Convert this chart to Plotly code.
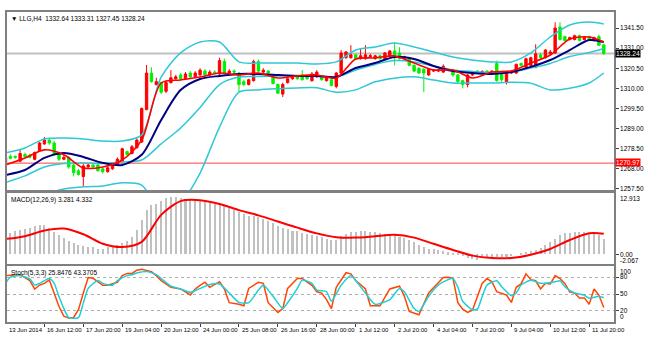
import plotly.graph_objects as go

# ---------------- data ----------------
opens = [1271.5,1274.5,1274.5,1272.0,1275.5,1275.0,1273.0,1277.5,1281.0,1283.0,
         1281.5,1276.0,1273.0,1274.0,1270.0,1267.0,1264.0,1269.0,1270.0,1270.0,
         1268.0,1266.5,1268.0,1270.0,1272.0,1277.0,1276.0,1279.0,1282.0,1299.0,
         1318.0,1312.0,1313.0,1308.5,1313.0,1315.0,1317.0,1315.0,1318.0,1316.0,
         1317.0,1319.0,1317.0,1318.5,1317.5,1324.0,1318.0,1319.0,1318.0,1313.5,
         1312.0,1314.0,1324.0,1318.5,1319.0,1317.0,1312.0,1307.0,1313.0,1315.0,
         1316.0,1317.0,1316.0,1314.0,1316.0,1316.0,1314.0,1314.5,1311.0,1318.0,
         1326.0,1326.0,1327.5,1325.5,1325.5,1326.5,1325.5,1327.0,1325.5,1327.0,
         1329.5,1328.5,1325.5,1326.0,1322.0,1320.5,1320.0,1317.0,1319.0,1319.0,
         1318.5,1320.0,1319.5,1317.0,1314.0,1312.0,1317.0,1319.0,1318.0,1319.0,
         1317.5,1323.0,1318.0,1313.5,1318.0,1318.0,1323.0,1321.0,1322.0,1321.0,
         1327.5,1326.0,1328.0,1328.5,1342.0,1337.0,1335.5,1335.5,1337.5,1335.5,
         1337.0,1335.0,1337.0,1332.64]
highs = [1274.8,1275.5,1275.0,1278.0,1276.5,1276.0,1277.0,1282.0,1284.6,1283.8,
         1282.5,1276.5,1275.0,1274.5,1270.5,1268.0,1270.5,1270.5,1271.0,1270.5,
         1268.5,1269.0,1271.5,1274.0,1279.0,1277.5,1280.5,1284.0,1300.0,1322.2,
         1321.0,1315.5,1313.5,1314.0,1319.5,1317.0,1318.0,1318.5,1319.0,1319.0,
         1320.5,1320.0,1319.5,1319.5,1326.0,1325.5,1320.0,1320.0,1318.5,1314.5,
         1315.0,1325.0,1325.0,1320.5,1319.5,1317.5,1312.5,1313.0,1316.0,1317.0,
         1317.0,1319.5,1316.5,1318.5,1319.5,1316.5,1316.5,1315.0,1318.5,1330.0,
         1329.5,1332.5,1328.0,1331.0,1332.5,1328.0,1327.5,1327.5,1329.0,1330.0,
         1334.0,1331.5,1327.0,1326.5,1322.5,1321.0,1320.5,1320.5,1320.0,1320.0,
         1322.5,1320.5,1320.0,1317.5,1314.5,1317.5,1319.0,1319.5,1319.5,1319.5,
         1319.5,1324.5,1318.5,1319.0,1319.5,1323.0,1323.5,1326.0,1326.5,1333.0,
         1328.5,1330.5,1330.0,1344.5,1344.5,1337.5,1337.0,1338.0,1338.0,1337.0,
         1337.5,1337.0,1338.0,1333.31]
lows = [1270.5,1273.0,1273.2,1271.5,1274.0,1273.5,1272.5,1277.0,1280.5,1280.5,
        1275.0,1272.0,1272.5,1268.0,1264.0,1264.5,1258.5,1268.5,1268.5,1266.5,
        1265.5,1266.0,1267.5,1269.5,1271.5,1275.0,1275.5,1278.5,1281.5,1298.5,
        1313.0,1311.5,1307.0,1307.5,1312.5,1314.5,1314.5,1314.5,1315.5,1315.5,
        1316.5,1316.5,1316.5,1317.5,1317.0,1317.5,1317.5,1317.5,1308.0,1311.0,
        1311.5,1313.5,1318.5,1318.0,1317.0,1312.0,1307.0,1305.5,1312.5,1314.5,
        1314.5,1314.0,1314.5,1313.5,1315.5,1314.0,1313.5,1311.0,1310.0,1317.5,
        1325.5,1325.5,1325.0,1325.0,1325.0,1326.0,1325.0,1325.0,1325.0,1326.5,
        1322.0,1325.0,1325.0,1321.5,1318.5,1317.5,1308.0,1316.5,1318.5,1318.5,
        1318.0,1319.0,1316.0,1313.0,1310.0,1310.5,1316.5,1317.5,1317.5,1317.5,
        1317.0,1313.5,1313.5,1312.0,1317.5,1317.5,1321.5,1320.5,1321.5,1320.5,
        1325.5,1325.5,1327.5,1328.0,1335.0,1334.5,1335.0,1335.0,1334.5,1335.0,
        1335.0,1334.5,1332.0,1327.45]
closes = [1274.0,1273.5,1274.0,1276.0,1274.5,1274.0,1276.5,1281.5,1283.0,1281.5,
          1276.0,1273.0,1274.0,1269.0,1266.0,1265.0,1269.5,1270.0,1269.0,1267.0,
          1266.5,1268.5,1271.0,1273.0,1278.5,1275.5,1279.5,1283.0,1299.5,1318.0,
          1313.5,1313.5,1308.0,1313.0,1315.5,1316.0,1315.0,1317.5,1316.0,1318.0,
          1319.5,1317.0,1318.5,1318.0,1324.5,1318.0,1319.0,1318.5,1312.0,1312.0,
          1314.5,1324.0,1319.0,1319.5,1318.0,1312.5,1307.5,1312.0,1315.0,1316.0,
          1315.0,1314.5,1315.0,1317.5,1318.5,1314.5,1315.5,1311.5,1318.0,1328.5,
          1329.0,1327.5,1325.5,1327.0,1327.5,1327.0,1327.0,1325.5,1328.5,1329.5,
          1326.0,1325.5,1326.5,1322.0,1319.0,1318.0,1318.0,1320.0,1319.5,1319.5,
          1321.5,1319.5,1317.0,1313.5,1312.0,1317.0,1318.5,1318.0,1318.8,1318.0,
          1319.0,1314.0,1314.5,1318.5,1319.0,1322.5,1322.0,1325.5,1326.0,1328.0,
          1326.0,1330.0,1329.0,1341.5,1335.5,1335.0,1336.5,1337.5,1335.0,1336.5,
          1335.5,1336.5,1332.5,1328.24]

line_idx = [0,4,8,12,16,20,24,28,32,36,40,44,48,52,56,60,64,68,72,76,80,84,88,92,96,100,104,108,112,116,120,123]
fast_ma = [1270.0,1273.7,1277.9,1275.3,1268.5,1269.0,1272.6,1283.0,1312.8,1314.4,1315.9,1318.0,1317.0,1318.0,1315.4,1316.5,
           1317.0,1315.4,1325.3,1325.9,1326.9,1323.2,1319.6,1319.6,1315.4,1318.5,1319.1,1323.2,1327.4,1335.8,1336.8,1334.2]
slow_ma = [1264.8,1267.4,1273.7,1276.3,1274.2,1271.1,1270.0,1275.3,1293.5,1309.1,1314.9,1316.5,1317.5,1317.5,1317.0,1316.5,
           1316.5,1315.9,1320.6,1323.2,1326.4,1325.3,1321.7,1319.1,1318.0,1317.5,1318.5,1321.2,1324.8,1330.0,1335.2,1334.2]
bb_upper = [1276.3,1278.9,1283.6,1284.1,1283.6,1282.5,1282.5,1285.7,1315.9,1328.5,1334.2,1334.2,1323.8,1323.2,1323.2,1323.2,
            1322.7,1323.8,1330.0,1331.6,1333.7,1331.6,1329.0,1326.4,1324.8,1323.8,1323.8,1328.5,1336.8,1343.1,1344.6,1343.6]
bb_mid = [1260.9,1264.3,1269.0,1270.8,1271.1,1270.8,1271.6,1272.6,1281.0,1289.3,1300.0,1312.0,1315.9,1316.2,1316.5,1316.7,
          1316.5,1315.9,1319.6,1322.5,1324.5,1323.8,1321.7,1319.6,1318.8,1318.3,1318.5,1320.6,1323.0,1326.6,1328.7,1330.8]
bb_lower = [1245.5,1249.7,1254.4,1257.5,1258.6,1259.1,1260.7,1259.5,1246.1,1250.1,1265.8,1289.8,1308.0,1309.2,1309.8,1310.2,
            1310.3,1308.0,1309.2,1313.4,1315.3,1316.0,1314.4,1312.8,1312.8,1312.8,1313.2,1312.7,1309.2,1310.1,1312.8,1318.0]

macd_hist = [4.4,4.5,4.96,5.1,5.3,5.5,5.95,6.2,6.2,5.5,
             4.75,4.05,3.4,2.7,2.3,1.96,1.75,1.6,1.5,1.1,
             1.05,1.5,1.75,1.9,2.3,2.7,3.7,5.2,7.2,9.3,
             10.3,10.6,11.3,11.9,12.0,12.0,11.9,11.7,11.5,11.3,
             11.2,11.0,10.8,10.6,10.5,10.2,9.8,9.4,8.9,8.4,
             8.0,8.0,7.8,7.5,7.1,6.6,6.0,5.6,5.3,5.0,
             4.8,4.5,4.2,4.0,3.8,3.6,3.3,3.0,3.0,3.8,
             4.3,4.6,4.7,4.8,4.8,4.7,4.6,4.4,4.3,4.3,
             4.0,3.7,3.4,3.0,2.5,2.0,1.5,1.2,1.0,0.8,
             0.6,0.4,0.3,0.1,-0.3,-0.9,-1.1,-1.2,-0.9,-0.7,
             -0.5,-0.6,-0.5,-0.5,-0.3,0.0,0.3,0.5,0.7,0.8,
             1.3,1.9,2.5,3.3,4.0,4.4,4.5,4.75,4.75,4.75,
             4.5,4.4,4.05,3.281]
macd_signal = [3.2,3.8,5.0,5.4,4.2,2.2,1.5,2.6,8.3,11.2,11.4,10.6,9.3,8.2,6.9,5.6,
               4.4,3.6,3.5,3.8,4.1,3.5,2.2,0.9,-0.3,-0.8,-0.8,-0.1,1.1,3.0,4.4,4.332]

k_idx = [0,3,5,6,7,8,9,10,11,12,13,14,15,16,17,18,19,20,21,23,24,25,26,27,28,30,31,32,34,36,38,39,40,41,42,44,45,46,48,49,
         50,52,53,54,56,57,58,60,61,63,64,65,66,67,68,70,71,72,74,75,77,79,81,82,83,85,87,89,90,91,92,93,94,95,96,97,98,99,
         100,101,103,104,105,106,107,108,109,110,111,112,113,114,115,116,117,118,119,120,121,122,123]
k_val = [83,84.5,74,58.6,66,69,75,53,27.6,10.3,7,8,22,51.7,79.3,78,72,65.5,65.5,71,82.8,86.8,86.8,92.5,94,90,82.8,74,62,59,
         48.3,59,65.5,71,62,72,59,34.5,31.6,29,60,71,69,34.5,17,24,60,77.6,77.6,65.5,54,51.7,40,24,62,88,86,74,59,29,29,59,64,
         46,19,13,52,70,79.3,80,78,34.5,23,17,21,45,69,77.6,71.8,54,48,35,62,68,86,75.6,73.6,59,69,67.8,83,77.6,69,54,51.7,43,
         43,31.6,59,47.7,25.85]
d_idx = [0,1,3,5,6,7,9,10,11,12,13,15,16,17,19,20,22,23,25,26,27,29,31,32,34,36,38,40,42,44,46,48,50,52,53,55,57,58,60,61,
         63,64,66,67,69,71,72,74,76,79,81,82,84,85,87,89,91,92,93,94,96,97,98,99,101,102,104,105,106,108,110,111,113,114,115,
         117,119,120,122,123]
d_val = [69,80,82.8,77,66,69,77.6,69,45,24,8,8,34,60,74,69,65.5,74,82.8,84.5,87.4,90,84.5,77.6,64,59,53,60,67,68,51.7,35,
         34.5,57,66,46,24,34.5,60,74.7,69,57,54,37.4,65.5,83,74,51.7,31.6,40,60,54,24,19,46,66,75.6,78,62,37,21.8,23,45.4,66,
         73.6,63,47,51.7,66,74.7,69,69,71.8,73.6,63,51.7,47.7,42.5,46,43.37]

price_ticks = [1257.5, 1268.0, 1278.5, 1289.0, 1299.5, 1310.0, 1320.5, 1331.0, 1341.5]
bid_price = 1328.24
level_price = 1270.97
date_idx = [8, 16, 24, 32, 40, 48, 56, 64, 72, 80, 88, 96, 104, 112, 120]
date_labels = ["16 Jun 12:00", "17 Jun 20:00", "19 Jun 04:00", "20 Jun 12:00", "24 Jun 00:00",
               "25 Jun 08:00", "26 Jun 16:00", "28 Jun 00:00", "1 Jul 12:00", "2 Jul 20:00",
               "4 Jul 04:00", "7 Jul 20:00", "9 Jul 04:00", "10 Jul 12:00", "11 Jul 20:00"]
first_label = "13 Jun 2014"
header_main = "\u25bc LLG,H4  1332.64 1333.31 1327.45 1328.24"
header_macd = "MACD(12,26,9) 3.281 4.332"
header_stoch = "Stoch(5,3,3) 25.8476 43.3705"
macd_range = [-2.067, 12.913]

# ---------------- styling ----------------
FONT = "Liberation Sans, Arial, sans-serif"
FS = 6.5
FSX = 6
BULL = "#ff0000"
BEAR = "#00f000"
CYAN = "#2ec8d6"
FRAME = "#808080"

idx = list(range(len(opens)))
fig = go.Figure()

# main panel
fig.add_trace(go.Candlestick(
    x=idx, open=opens, high=highs, low=lows, close=closes,
    increasing=dict(line=dict(color=BULL, width=1), fillcolor=BULL),
    decreasing=dict(line=dict(color=BEAR, width=1), fillcolor=BEAR),
    whiskerwidth=0, xaxis="x", yaxis="y", hoverinfo="skip"))
for vals, col, w in [(bb_upper, CYAN, 1.5), (bb_mid, CYAN, 1.5), (bb_lower, CYAN, 1.5),
                     (slow_ma, "#000080", 2), (fast_ma, "#ff0000", 1.6)]:
    fig.add_trace(go.Scatter(x=line_idx, y=vals, mode="lines",
                             line=dict(color=col, width=w, shape="spline", smoothing=0.8),
                             xaxis="x", yaxis="y", hoverinfo="skip"))

# MACD panel
fig.add_trace(go.Bar(x=idx, y=macd_hist, marker=dict(color="#c0c0c0", line=dict(width=0)),
                     width=0.42, xaxis="x2", yaxis="y2", hoverinfo="skip"))
fig.add_trace(go.Scatter(x=line_idx, y=macd_signal, mode="lines",
                         line=dict(color="#ff0000", width=2, shape="spline", smoothing=0.8),
                         xaxis="x2", yaxis="y2", hoverinfo="skip"))

# Stochastic panel
fig.add_trace(go.Scatter(x=k_idx, y=k_val, mode="lines", line=dict(color="#ff4500", width=1.5),
                         xaxis="x3", yaxis="y3", hoverinfo="skip"))
fig.add_trace(go.Scatter(x=d_idx, y=d_val, mode="lines",
                         line=dict(color="#1ecfd6", width=1.5, shape="spline", smoothing=0.6),
                         xaxis="x3", yaxis="y3", hoverinfo="skip"))

XR = [0.306, 125.1]
H = 310.0
def dom(top_px, bot_px):
    return [(322 - bot_px) / H, (322 - top_px) / H]

xcommon = dict(range=XR, showgrid=False, zeroline=False, showline=True, mirror=True,
               linecolor=FRAME, linewidth=1.5, fixedrange=True)
ycommon = dict(side="right", showgrid=False, zeroline=False, showline=True, mirror=True,
               linecolor=FRAME, linewidth=1.5, ticks="outside", ticklen=3, tickcolor="#404040",
               tickfont=dict(family=FONT, size=FS, color="#000000"), fixedrange=True)

fig.update_layout(
    width=649, height=342,
    margin=dict(l=5, r=33, t=12, b=20),
    paper_bgcolor="white", plot_bgcolor="white",
    showlegend=False,
    font=dict(family=FONT, size=FS, color="#000000"),
    xaxis=dict(domain=[0, 1], anchor="y", showticklabels=False, ticks="", rangeslider=dict(visible=False), **xcommon),
    xaxis2=dict(domain=[0, 1], anchor="y2", showticklabels=False, ticks="", **xcommon),
    xaxis3=dict(domain=[0, 1], anchor="y3", showticklabels=False, ticks="outside", ticklen=3,
                tickcolor="#404040", tickvals=date_idx, **xcommon),
    yaxis=dict(domain=dom(12, 190), range=[1256.95, 1349.85], anchor="x",
               tickvals=price_ticks, ticktext=["%.2f" % v for v in price_ticks], **ycommon),
    yaxis2=dict(domain=dom(193, 264), range=macd_range, anchor="x2",
                tickvals=[0], ticktext=["0.00"], ticklabelshift=1, **ycommon),
    yaxis3=dict(domain=dom(266, 322), range=[0, 100], anchor="x3",
                tickvals=[20, 50, 80], ticktext=["20", "50", "80"], **ycommon),
    bargap=0,
)
fig.update_yaxes(showgrid=True, gridcolor="#b0b0b0", griddash="dot", gridwidth=1, selector=dict(anchor="x3"))

shapes = [
    dict(type="line", xref="x domain", yref="y", x0=0, x1=1, y0=bid_price, y1=bid_price,
         line=dict(color="#c0c0c0", width=2), layer="below"),
    dict(type="line", xref="x domain", yref="y", x0=0, x1=1, y0=level_price, y1=level_price,
         line=dict(color="#ff4040", width=1), layer="below"),
]
fig.update_layout(shapes=shapes)

ann = []
# header texts
ann.append(dict(xref="x domain", yref="y domain", x=0.004, y=1, xanchor="left", yanchor="top", yshift=-1,
                text=header_main, showarrow=False, font=dict(family=FONT, size=FS)))
ann.append(dict(xref="x2 domain", yref="y2 domain", x=0.004, y=1, xanchor="left", yanchor="top", yshift=-1,
                text=header_macd, showarrow=False, font=dict(family=FONT, size=FS)))
ann.append(dict(xref="x3 domain", yref="y3 domain", x=0.004, y=1, xanchor="left", yanchor="top", yshift=-1,
                text=header_stoch, showarrow=False, font=dict(family=FONT, size=FS)))
# price boxes
ann.append(dict(xref="x domain", yref="y", x=1, y=bid_price, xanchor="left", yanchor="middle", xshift=1,
                text="%.2f" % bid_price, showarrow=False, bgcolor="#000000", borderpad=0,
                font=dict(family=FONT, size=FS, color="#ffffff")))
ann.append(dict(xref="x domain", yref="y", x=1, y=level_price, xanchor="left", yanchor="middle", xshift=1,
                yshift=1, text="%.2f" % level_price, showarrow=False, bgcolor="#ff0000", borderpad=0,
                font=dict(family=FONT, size=FS, color="#ffffff")))
# edge labels of sub panels
ann.append(dict(xref="x2 domain", yref="y2", x=1, y=macd_range[1], xanchor="left", yanchor="top", xshift=4,
                text="%.3f" % macd_range[1], showarrow=False, font=dict(family=FONT, size=FS)))
ann.append(dict(xref="x2 domain", yref="y2", x=1, y=macd_range[0], xanchor="left", yanchor="bottom", xshift=4,
                yshift=-2, text="%.3f" % macd_range[0], showarrow=False, font=dict(family=FONT, size=FS)))
ann.append(dict(xref="x3 domain", yref="y3", x=1, y=100, xanchor="left", yanchor="top", xshift=4,
                text="100", showarrow=False, font=dict(family=FONT, size=FS)))
ann.append(dict(xref="x3 domain", yref="y3", x=1, y=0, xanchor="left", yanchor="bottom", xshift=4,
                text="0", showarrow=False, font=dict(family=FONT, size=FS)))
# date labels
ann.append(dict(xref="x3 domain", yref="y3 domain", x=0, y=0, xanchor="left", yanchor="top", yshift=-3,
                text=first_label, showarrow=False, font=dict(family=FONT, size=FSX)))
for xi, lab in zip(date_idx, date_labels):
    ann.append(dict(xref="x3", yref="y3 domain", x=xi, y=0, xanchor="left", yanchor="top", yshift=-3, xshift=1,
                    text=lab, showarrow=False, font=dict(family=FONT, size=FSX)))
fig.update_layout(annotations=ann)

fig.write_html("out.html")
